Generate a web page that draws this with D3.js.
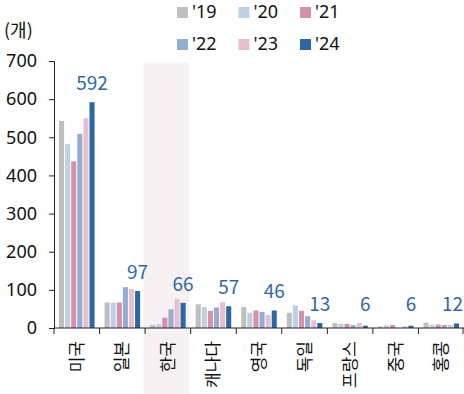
<!DOCTYPE html>
<html><head><meta charset="utf-8">
<script src="https://cdn.jsdelivr.net/npm/d3@7"></script>
<style>body{margin:0;background:#fff}svg{display:block;font-family:"Noto Sans CJK KR","Noto Sans",sans-serif}</style>
</head><body><svg id="c" width="464" height="394"></svg>
<script>
const categories = ["미국","일본","한국","캐나다","영국","독일","프랑스","중국","홍콩"];
const years = ["'19","'20","'21","'22","'23","'24"];
const v19 = [543, 67, 8, 62, 55, 40, 13, 4, 14];
const v20 = [482, 67, 10, 55, 40, 59, 11, 7, 9];
const v21 = [437, 67, 27, 45, 46, 45, 11, 8, 9];
const v22 = [509, 107, 49, 54, 42, 31, 8, 0, 8];
const v23 = [550, 102, 76, 68, 34, 20, 13, 5, 8];
const v24 = [592, 97, 66, 57, 46, 13, 6, 6, 12];
const yTicks = [0,100,200,300,400,500,600,700];
const colors = ["#bfbfbf","#bdd0e7","#d690a8","#93add5","#e8bfcd","#2a69a6"];
const highlight = "한국";
const series = [v19,v20,v21,v22,v23,v24];

const svg = d3.select("#c");
const x = d3.scaleBand().domain(categories).range([54, 464]).paddingInner(0).paddingOuter(0);
const y = d3.scaleLinear().domain([0,700]).range([328, 61]);
const xs = d3.scaleBand().domain(years).range([5, x.bandwidth()-5]).paddingInner(0.17);

// highlight band
svg.append("rect").attr("x", x(highlight)-1.5).attr("y", 62.5).attr("width", x.bandwidth()).attr("height", 394-62.5).attr("fill","#f8f1f4");

// bars
categories.forEach((c,i)=>{
  series.forEach((s,j)=>{
    svg.append("rect").attr("x", x(c)+xs(years[j])).attr("y", y(s[i])).attr("width", xs.bandwidth()).attr("height", y(0)-y(s[i])).attr("fill", colors[j]);
  });
});

// value labels for '24
categories.forEach((c,i)=>{
  const cx = x(c)+xs("'24")+xs.bandwidth()/2;
  const ly = Math.min(y(v24[i]) - 12, y(0) - 17);
  const t = svg.append("text").attr("x", cx).attr("y", ly).attr("text-anchor","middle").attr("font-size",19).attr("fill","#2e6aa8").text(v24[i]);
  const w = t.node().getComputedTextLength();
  if (cx + w/2 > 463) t.attr("x", 463 - w/2);
});

// y axis
const ya = svg.append("g").attr("transform","translate(54,0)").call(d3.axisLeft(y).tickValues(yTicks).tickSize(5).tickPadding(12));
ya.selectAll("text").attr("font-size",18).attr("fill","#111").attr("font-family","Noto Sans, sans-serif");
ya.selectAll("line,path").attr("stroke","#222");

// x axis
const xa = svg.append("g").attr("transform","translate(0,328)");
xa.append("line").attr("x1",54).attr("x2",464).attr("y1",0).attr("y2",0).attr("stroke","#222");
const bounds = categories.map(c=>x(c)).concat([x.range()[1]-1]);
xa.selectAll(".tk").data(bounds).join("line").attr("x1",d=>d).attr("x2",d=>d).attr("y1",0).attr("y2",6).attr("stroke","#222");
xa.selectAll(".lb").data(categories).join("text")
  .attr("transform", d=>`translate(${x(d)+x.bandwidth()/2+6},13) rotate(-90)`)
  .attr("text-anchor","end").attr("font-size",17).attr("fill","#111").text(d=>d);

// unit
svg.append("text").attr("x",4).attr("y",37).attr("font-size",18).attr("fill","#111").text("(개)");

// legend
years.forEach((yr,j)=>{
  const col = j%3, row = Math.floor(j/3);
  const lx = 177 + col*61.5, ly = 7 + row*32;
  svg.append("rect").attr("x",lx).attr("y",ly).attr("width",11).attr("height",11).attr("fill",colors[j]);
  svg.append("text").attr("x",lx+15).attr("y",ly+11).attr("font-size",18).attr("fill","#111").attr("font-family","Noto Sans, sans-serif").text(yr);
});
</script></body></html>
